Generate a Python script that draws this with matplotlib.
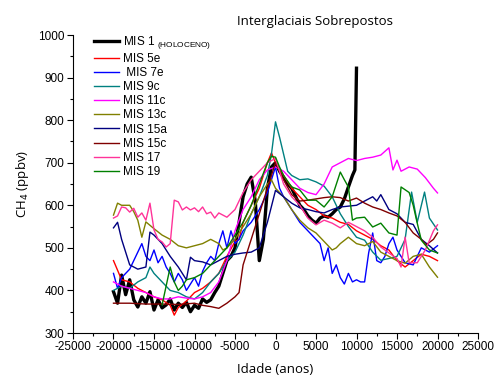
#!/usr/bin/env python3
# Interglaciais sobrepostos - CH4 vs idade
import matplotlib
matplotlib.use("Agg")
import matplotlib.pyplot as plt
from matplotlib.ticker import MultipleLocator

plt.rcParams['font.family'] = ['Liberation Sans', 'DejaVu Sans']
plt.rcParams['axes.unicode_minus'] = False

# dados (idade em anos, CH4 em ppbv)
mis1_t = [-20000, -19500, -19000, -18500, -18000, -17500, -17000, -16500, -16000, -15500,
          -15000, -14500, -14000, -13500, -13000, -12500, -12000, -11500, -11000, -10500,
          -10000, -9500, -9000, -8500, -8000, -7500, -7000, -6500, -6000, -5500,
          -5000, -4500, -4000, -3500, -3000, -2500, -2000, -1500, -1000, -500,
          0, 500, 1000, 1500, 2000, 2500, 3000, 3500, 4000, 4500,
          5000, 5500, 6000, 6500, 7000, 7500, 8000, 8500, 9000, 9500, 9800, 10000]
mis1_ch4 = [397, 370, 436, 390, 425, 378, 361, 385, 370, 397,
            354, 378, 359, 366, 380, 354, 370, 360, 372, 350,
            365, 358, 380, 372, 378, 395, 410, 440, 470, 480,
            500, 560, 620, 650, 666, 610, 470, 520, 640, 690,
            700, 680, 665, 650, 640, 620, 600, 590, 575, 565,
            558, 570, 575, 572, 580, 590, 596, 615, 643, 670, 683, 922]

mis5e_t = [-20000, -19000, -18000, -17000, -16000, -15000, -14000, -13000, -12500, -12000,
           -11000, -10000, -9000, -8000, -7000, -6000, -5000, -4500, -4000, -3000,
           -2000, -1000, -500, 0, 1000, 2000, 3000, 4000, 5000, 6000,
           7000, 8000, 9000, 10000, 11000, 12000, 13000, 14000, 15000, 16000,
           17000, 18000, 19000, 20000]
mis5e_ch4 = [470, 425, 420, 405, 395, 385, 378, 365, 342, 360,
             375, 395, 405, 420, 440, 480, 515, 520, 560, 600,
             640, 700, 723, 700, 670, 640, 620, 600, 590, 575,
             570, 560, 555, 540, 530, 520, 505, 495, 470, 455,
             470, 485, 480, 470]

mis7e_t = [-20000, -19500, -19000, -18000, -17000, -16500, -16000, -15500, -15000, -14500,
           -14000, -13500, -13000, -12500, -12000, -11500, -11000, -10500, -10000, -9500,
           -9000, -8500, -8000, -7500, -7000, -6500, -6000, -5500, -5000, -4500,
           -4000, -3000, -2000, -1000, -500, 0, 500, 1000, 2000, 3000,
           4000, 5000, 5500, 6000, 6500, 7000, 7500, 8000, 8500, 9000,
           9500, 10000, 10500, 11000, 11500, 12000, 12500, 13000, 13500, 14000,
           14500, 15000, 16000, 17000, 18000, 19000, 20000]
mis7e_ch4 = [440, 405, 430, 450, 490, 510, 480, 470, 495, 465,
             480, 455, 440, 420, 440, 425, 400, 415, 430, 410,
             445, 465, 480, 470, 510, 540, 500, 540, 510, 520,
             540, 560, 590, 630, 660, 690, 640, 620, 590, 560,
             540, 520, 510, 470, 500, 440, 460, 430, 415, 440,
             420, 425, 420, 420, 488, 535, 470, 465, 480, 510,
             525, 495, 465, 460, 500, 490, 505]

mis9c_t = [-20000, -19000, -18000, -17000, -16000, -15500, -15000, -14000, -13000, -12000,
           -11000, -10000, -9000, -8000, -7000, -6000, -5000, -4000, -3000, -2000,
           -1000, -500, 0, 500, 1000, 1500, 2000, 3000, 4000, 5000,
           6000, 7000, 8000, 9000, 10000, 11000, 12000, 13000, 14000, 15000,
           16000, 16800, 17500, 18400, 19000, 20000]
mis9c_ch4 = [400, 410, 405, 420, 430, 455, 440, 420, 400, 395,
             385, 380, 395, 420, 440, 470, 490, 530, 580, 620,
             670, 720, 796, 760, 720, 680, 670, 660, 662, 655,
             645, 620, 580, 550, 525, 518, 490, 471, 475, 480,
             520, 631, 560, 631, 570, 542]

mis11c_t = [-20000, -19000, -18000, -17000, -16000, -15000, -14000, -13000, -12000, -11000,
            -10000, -9000, -8000, -7000, -6000, -5000, -4000, -3000, -2000, -1000,
            0, 1000, 2000, 3000, 4000, 5000, 6000, 7000, 8000, 9000,
            10000, 11000, 12000, 13000, 14000, 14500, 15000, 15500, 16500, 17500,
            18500, 19500, 20000]
mis11c_ch4 = [420, 410, 405, 400, 395, 385, 380, 380, 385, 382,
              380, 385, 395, 420, 470, 540, 590, 620, 660, 683,
              690, 680, 660, 640, 630, 625, 650, 690, 700, 710,
              705, 710, 713, 718, 735, 683, 706, 680, 690, 685,
              665, 640, 629]

mis13c_t = [-20000, -19500, -19000, -18000, -17500, -17000, -16500, -16000, -15000, -14000,
            -13000, -12000, -11000, -10000, -9000, -8000, -7000, -6500, -6000, -5000,
            -4000, -3000, -2000, -1000, -500, 0, 1000, 2000, 3000, 4000,
            5000, 6000, 7000, 7500, 8000, 9000, 10000, 11000, 12000, 13000,
            14000, 15000, 16000, 17000, 18000, 19000, 20000]
mis13c_ch4 = [577, 605, 600, 600, 585, 565, 525, 561, 545, 530,
              520, 505, 500, 505, 510, 520, 510, 495, 500, 520,
              550, 580, 620, 650, 660, 640, 620, 590, 565, 547,
              535, 515, 495, 500, 510, 525, 510, 505, 515, 490,
              480, 470, 464, 480, 485, 455, 431]

mis15a_t = [-20000, -19500, -19000, -18500, -18000, -17000, -16000, -15500, -15000, -14000,
            -13000, -12000, -11000, -10500, -10000, -9000, -8000, -7000, -6000, -5000,
            -4000, -3000, -2000, -1000, 0, 1000, 2000, 3000, 4000, 5000,
            6000, 7000, 8000, 9000, 10000, 11000, 12000, 12500, 13000, 14000,
            15000, 16000, 17000, 18000, 19000, 20000]
mis15a_ch4 = [547, 560, 520, 490, 460, 450, 455, 537, 530, 510,
              480, 455, 425, 478, 470, 467, 460, 470, 480, 485,
              488, 490, 500, 560, 635, 620, 605, 594, 590, 585,
              582, 590, 596, 598, 600, 610, 620, 610, 625, 590,
              580, 560, 555, 520, 505, 488]

mis15c_t = [-20000, -18000, -16000, -14000, -12000, -10000, -9000, -8000, -7000, -6000,
            -5000, -4500, -4000, -3000, -2000, -1000, 0, 1000, 2000, 3000,
            4000, 5000, 6000, 7000, 8000, 9000, 10000, 11000, 12000, 13000,
            14000, 15000, 16000, 17000, 18000, 18600, 19500, 20000]
mis15c_ch4 = [370, 370, 368, 368, 367, 370, 365, 362, 358, 370,
              385, 395, 460, 520, 580, 640, 700, 660, 625, 610,
              612, 615, 618, 620, 618, 610, 617, 605, 596, 590,
              582, 575, 560, 535, 520, 507, 520, 535]

mis17_t = [-20000, -19500, -19000, -18500, -18000, -17500, -17000, -16500, -16000, -15500,
           -15000, -14500, -14000, -13500, -13000, -12500, -12000, -11500, -11000, -10500,
           -10000, -9500, -9000, -8500, -8000, -7500, -7000, -6000, -5000, -4000,
           -3000, -2000, -1000, 0, 1000, 2000, 3000, 4000, 5000, 6000,
           7000, 8000, 9000, 10000, 11000, 12000, 13000, 14000, 15000, 15500,
           16000, 16500, 17500, 18500, 19500, 20000]
mis17_ch4 = [570, 575, 596, 594, 584, 593, 572, 582, 565, 605,
             542, 520, 514, 502, 510, 612, 608, 589, 596, 589,
             594, 585, 596, 580, 584, 570, 582, 572, 590, 630,
             660, 680, 700, 710, 650, 620, 600, 570, 554, 565,
             558, 547, 560, 550, 540, 525, 502, 488, 475, 455,
             525, 465, 465, 495, 540, 554]

mis19_t = [-14000, -13000, -12500, -12000, -11500, -11000, -10000, -9000, -8000, -7000,
           -6000, -5000, -4000, -3000, -2000, -1000, -500, 0, 500, 1000,
           2000, 3000, 4000, 5000, 6000, 7000, 8000, 8500, 9000, 9500,
           10000, 11000, 12000, 13000, 14000, 15000, 15500, 16500, 17000, 17500,
           18000, 19000, 20000]
mis19_ch4 = [366, 455, 420, 400, 410, 425, 430, 440, 460, 480,
             500, 530, 560, 600, 650, 700, 715, 713, 690, 670,
             643, 636, 612, 612, 596, 620, 678, 660, 643, 565,
             570, 572, 549, 558, 535, 530, 643, 630, 600, 558,
             518, 495, 488]

series = [
    (mis1_t, mis1_ch4, 'MIS 1 $\\mathregular{_{(HOLOCENO)}}$', 'black', 2.4),
    (mis5e_t, mis5e_ch4, 'MIS 5e', '#FF0000', 1.0),
    (mis7e_t, mis7e_ch4, ' MIS 7e', '#0000FF', 1.0),
    (mis9c_t, mis9c_ch4, 'MIS 9c', '#008080', 1.0),
    (mis11c_t, mis11c_ch4, 'MIS 11c', '#FF00FF', 1.0),
    (mis13c_t, mis13c_ch4, 'MIS 13c', '#808000', 1.0),
    (mis15a_t, mis15a_ch4, 'MIS 15a', '#000080', 1.0),
    (mis15c_t, mis15c_ch4, 'MIS 15c', '#800000', 1.0),
    (mis17_t, mis17_ch4, 'MIS 17', '#FF3399', 1.0),
    (mis19_t, mis19_ch4, 'MIS 19', '#008000', 1.0),
]

fig = plt.figure(figsize=(4.95, 3.8), dpi=100)
ax = fig.add_axes([73 / 495, 1 - 333 / 380, 405 / 495, 298 / 380])

for t, ch4, label, color, lw in series:
    ax.plot(t, ch4, color=color, lw=lw, label=label)

ax.set_xlim(-25000, 25000)
ax.set_ylim(300, 1000)
ax.xaxis.set_major_locator(MultipleLocator(5000))
ax.xaxis.set_minor_locator(MultipleLocator(2500))
ax.yaxis.set_major_locator(MultipleLocator(100))
ax.yaxis.set_minor_locator(MultipleLocator(50))
ax.tick_params(which='major', direction='out', length=4, width=0.8, labelsize=8.5, pad=2)
ax.tick_params(which='minor', direction='out', length=2.5, width=0.8)
for s in ['top', 'right']:
    ax.spines[s].set_visible(False)

ax.set_xlabel('Idade (anos)', fontsize=9.5, family=['Open Sans', 'DejaVu Sans'], labelpad=7)
ax.set_ylabel('CH$_4$ (ppbv)', fontsize=9.5, family=['Open Sans', 'DejaVu Sans'], labelpad=5)
fig.text(315 / 495, 1 - 22 / 380, 'Interglaciais Sobrepostos', ha='center', va='center',
         fontsize=9.5, family=['Open Sans', 'DejaVu Sans'])

ax.legend(loc='upper left', bbox_to_anchor=(0.04, 1.02), frameon=False, fontsize=8.5,
          handlelength=2.1, handletextpad=0.4, labelspacing=0.18, borderaxespad=0)

fig.savefig('out.png', dpi=100)
